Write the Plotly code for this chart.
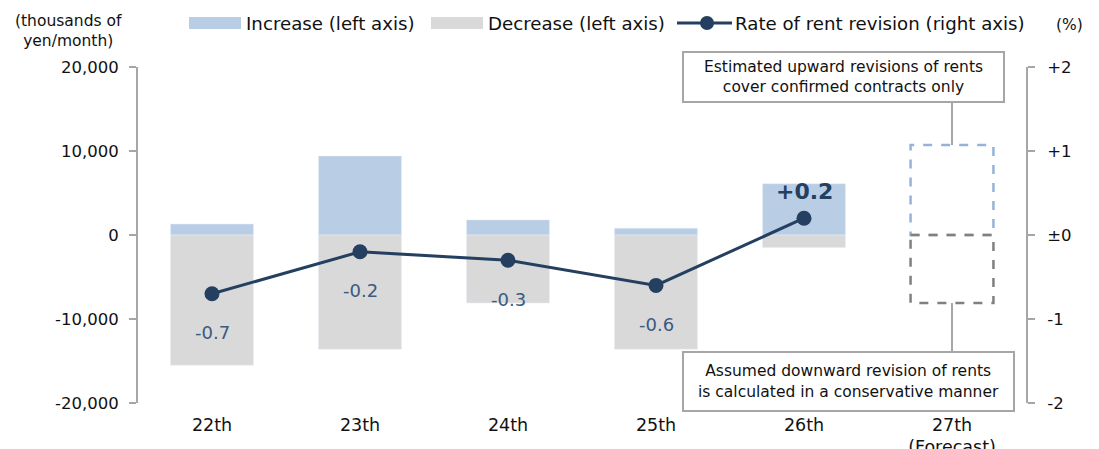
import plotly.graph_objects as go

# Semi-annual periods
periods = ["22th", "23th", "24th", "25th", "26th", "27th<br>(Forecast)"]

# Monthly rent change (thousands of yen/month), left axis
increase = [1300, 9400, 1800, 800, 6100, None]
decrease = [-15500, -13600, -8100, -13600, -1500, None]

# Forecast range for the 27th period (dashed outlines)
forecast_increase = 10700
forecast_decrease = -8100

# Rate of rent revision (%), right axis
rate = [-0.7, -0.2, -0.3, -0.6, 0.2]

left_ticks = [-20000, -10000, 0, 10000, 20000]
left_ticktext = ["-20,000", "-10,000", "0", "10,000", "20,000"]
right_ticks = [-2, -1, 0, 1, 2]
right_ticktext = ["-2", "-1", "±0", "+1", "+2"]

FONT = "DejaVu Sans"
AXIS_GREY = "#a6a6a6"
INC_COLOR = "#b9cde5"
DEC_COLOR = "#d9d9d9"
LINE_COLOR = "#243f60"
BAR_W = 0.56

fig = go.Figure()

fig.add_trace(go.Bar(x=periods, y=increase, marker_color=INC_COLOR, width=BAR_W,
                     name="Increase (left axis)", showlegend=False))
fig.add_trace(go.Bar(x=periods, y=decrease, marker_color=DEC_COLOR, width=BAR_W,
                     name="Decrease (left axis)", showlegend=False))
fig.add_trace(go.Scatter(x=periods[:len(rate)], y=rate, yaxis="y2", mode="lines+markers",
                         line=dict(color=LINE_COLOR, width=3),
                         marker=dict(color=LINE_COLOR, size=15),
                         name="Rate of rent revision (right axis)", showlegend=False))

# Rate labels
annotations = []
for p, v in zip(periods, rate):
    if v > 0:
        annotations.append(dict(x=p, y=v, xref="x", yref="y2", text=f"{v:+.1f}",
                                showarrow=False, yshift=27,
                                font=dict(family=FONT, size=22, color=LINE_COLOR, weight="bold")))
    else:
        annotations.append(dict(x=p, y=v, xref="x", yref="y2", text=f"{v:+.1f}",
                                showarrow=False, yshift=-39,
                                font=dict(family=FONT, size=18, color="#3b5a82")))

shapes = []
fi = len(periods) - 1
# Dashed forecast outlines
shapes.append(dict(type="rect", xref="x", yref="y", x0=fi - BAR_W / 2, x1=fi + BAR_W / 2,
                   y0=0, y1=forecast_increase, line=dict(color="#95b3d7", width=2.5, dash="dash"),
                   layer="above"))
shapes.append(dict(type="rect", xref="x", yref="y", x0=fi - BAR_W / 2, x1=fi + BAR_W / 2,
                   y0=0, y1=forecast_decrease, line=dict(color="#808080", width=2.5, dash="dash"),
                   layer="above"))
# Connectors to the callout boxes
shapes.append(dict(type="line", xref="x", yref="y", x0=fi, x1=fi, y0=forecast_increase, y1=15700,
                   line=dict(color=AXIS_GREY, width=2)))
shapes.append(dict(type="line", xref="x", yref="y", x0=fi, x1=fi, y0=forecast_decrease, y1=-13900,
                   line=dict(color=AXIS_GREY, width=2)))

# Callout boxes
callout_font = dict(family=FONT, size=15.5, color="#111")
annotations.append(dict(x=0.7945, y=0.970, xref="paper", yref="paper", showarrow=False,
                        xanchor="center", yanchor="middle",
                        text="Estimated upward revisions of rents<br>cover confirmed contracts only",
                        width=315, height=44, borderpad=2, bordercolor=AXIS_GREY, borderwidth=2,
                        bgcolor="white", align="center", font=callout_font))
annotations.append(dict(x=0.800, y=0.064, xref="paper", yref="paper", showarrow=False,
                        xanchor="center", yanchor="middle",
                        text="Assumed downward revision of rents<br>is calculated in a conservative manner",
                        width=325, height=53, borderpad=2, bordercolor=AXIS_GREY, borderwidth=2,
                        bgcolor="white", align="center", font=callout_font))


# Positions above the plot area, expressed in pixels of the page
def px_x(px):
    return (px - 138) / 888


def px_y(py):
    return (403 - py) / 336


unit_font = dict(family=FONT, size=15.5, color="#111")
annotations.append(dict(x=px_x(68), y=px_y(31), xref="paper", yref="paper", showarrow=False,
                        xanchor="center", yanchor="middle",
                        text="(thousands of<br>yen/month)", align="center", font=unit_font))
annotations.append(dict(x=px_x(1069), y=px_y(25), xref="paper", yref="paper", showarrow=False,
                        xanchor="center", yanchor="middle", text="(%)", font=unit_font))

# Legend drawn as swatches + labels above the plot area
legend_font = dict(family=FONT, size=18.2, color="#111")
shapes.append(dict(type="rect", xref="paper", yref="paper", x0=px_x(189), x1=px_x(241),
                   y0=px_y(29), y1=px_y(17), fillcolor=INC_COLOR, line=dict(width=0)))
annotations.append(dict(x=px_x(244), y=px_y(23), xref="paper", yref="paper", showarrow=False,
                        xanchor="left", yanchor="middle", text="Increase (left axis)", font=legend_font))
shapes.append(dict(type="rect", xref="paper", yref="paper", x0=px_x(431), x1=px_x(483),
                   y0=px_y(29), y1=px_y(17), fillcolor=DEC_COLOR, line=dict(width=0)))
annotations.append(dict(x=px_x(486), y=px_y(23), xref="paper", yref="paper", showarrow=False,
                        xanchor="left", yanchor="middle", text="Decrease (left axis)", font=legend_font))
shapes.append(dict(type="line", xref="paper", yref="paper", x0=px_x(677), x1=px_x(732),
                   y0=px_y(23), y1=px_y(23), line=dict(color=LINE_COLOR, width=3)))
shapes.append(dict(type="circle", xref="paper", yref="paper", x0=px_x(700), x1=px_x(714),
                   y0=px_y(30), y1=px_y(16), fillcolor=LINE_COLOR, line=dict(width=0)))
annotations.append(dict(x=px_x(733), y=px_y(23), xref="paper", yref="paper", showarrow=False,
                        xanchor="left", yanchor="middle", text="Rate of rent revision (right axis)",
                        font=legend_font))

x_font = dict(family=FONT, size=17.5, color="#111")
tick_font = dict(family=FONT, size=16.5, color="#111")
boundaries = [i + 0.5 for i in range(len(periods) - 1)]

fig.update_layout(
    width=1099, height=449,
    margin=dict(l=138, r=73, t=67, b=46, autoexpand=False),
    paper_bgcolor="white", plot_bgcolor="white",
    barmode="overlay",
    showlegend=False,
    shapes=shapes,
    annotations=annotations,
    xaxis=dict(range=[-0.5, len(periods) - 0.5], showgrid=False, showline=False, ticks="",
               zeroline=False, tickfont=x_font, ticklabelstandoff=9, automargin=False),
    xaxis2=dict(overlaying="x", anchor="free", position=0.5, range=[-0.5, len(periods) - 0.5],
                showline=True, linecolor=AXIS_GREY, linewidth=2, ticks="outside", ticklen=6,
                tickwidth=2, tickcolor=AXIS_GREY, tickvals=boundaries,
                showticklabels=False, showgrid=False, zeroline=False, layer="above traces",
                automargin=False),
    xaxis3=dict(overlaying="x", anchor="free", position=0.5, side="top",
                range=[-0.5, len(periods) - 0.5],
                showline=False, ticks="outside", ticklen=7,
                tickwidth=2, tickcolor=AXIS_GREY, tickvals=boundaries,
                showticklabels=False, showgrid=False, zeroline=False, layer="above traces",
                automargin=False),
    yaxis=dict(range=[-20000, 20000], tickvals=left_ticks, ticktext=left_ticktext,
               showline=True, linecolor=AXIS_GREY, linewidth=2, ticks="outside", ticklen=7,
               tickwidth=2, tickcolor=AXIS_GREY, showgrid=False, zeroline=False,
               tickfont=tick_font, ticklabelstandoff=7, automargin=False),
    yaxis2=dict(range=[-2, 2], overlaying="y", side="right", tickvals=right_ticks,
                ticktext=right_ticktext, showline=True, linecolor=AXIS_GREY, linewidth=2,
                ticks="outside", ticklen=7, tickwidth=2, tickcolor=AXIS_GREY,
                showgrid=False, zeroline=False, tickfont=tick_font, ticklabelstandoff=9,
                automargin=False),
)

fig.write_html("out.html")
